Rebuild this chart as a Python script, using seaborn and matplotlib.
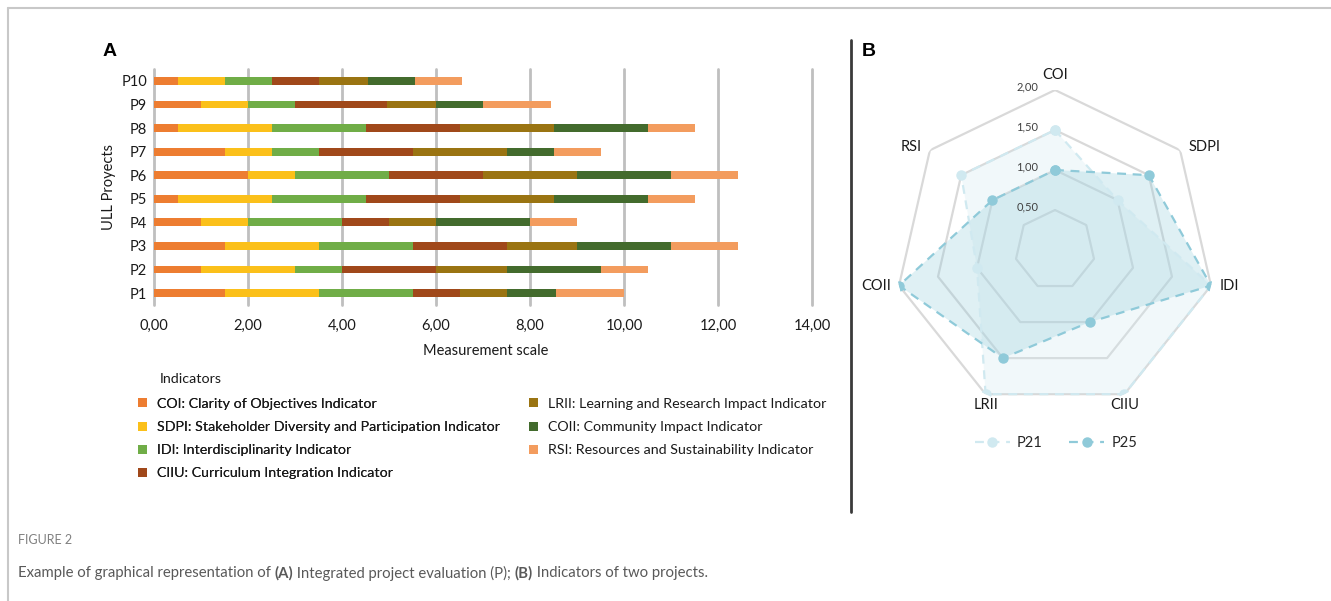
import numpy as np
import pandas as pd
import matplotlib
matplotlib.use("Agg")
import matplotlib.pyplot as plt
import seaborn as sns
from matplotlib.patches import Patch
from matplotlib.lines import Line2D

# ---------------- data ----------------
projects = ["P1", "P2", "P3", "P4", "P5", "P6", "P7", "P8", "P9", "P10"]
indicators = ["COI", "SDPI", "IDI", "CIIU", "LRII", "COII", "RSI"]
indicator_labels = [
    "COI: Clarity of Objectives Indicator",
    "SDPI: Stakeholder Diversity and Participation Indicator",
    "IDI: Interdisciplinarity Indicator",
    "CIIU: Curriculum Integration Indicator",
    "LRII: Learning and Research Impact Indicator",
    "COII: Community Impact Indicator",
    "RSI: Resources and Sustainability Indicator",
]
coi = [1.5, 1.0, 1.5, 1.0, 0.5, 2.0, 1.5, 0.5, 1.0, 0.5]
sdpi = [2.0, 2.0, 2.0, 1.0, 2.0, 1.0, 1.0, 2.0, 1.0, 1.0]
idi = [2.0, 1.0, 2.0, 2.0, 2.0, 2.0, 1.0, 2.0, 1.0, 1.0]
ciiu = [1.0, 2.0, 2.0, 1.0, 2.0, 2.0, 2.0, 2.0, 1.95, 1.0]
lrii = [1.0, 1.5, 1.5, 1.0, 2.0, 2.0, 2.0, 2.0, 1.05, 1.05]
coii = [1.05, 2.0, 2.0, 2.0, 2.0, 2.0, 1.0, 2.0, 1.0, 1.0]
rsi = [1.45, 1.0, 1.43, 1.0, 1.0, 1.43, 1.0, 1.0, 1.45, 1.0]
x_ticks = [0, 2, 4, 6, 8, 10, 12, 14]

radar_axes = ["COI", "SDPI", "IDI", "CIIU", "LRII", "COII", "RSI"]
p21 = [1.5, 1.0, 2.0, 2.0, 2.0, 1.0, 1.5]
p25 = [1.0, 1.5, 2.0, 1.0, 1.5, 2.0, 1.0]
radar_rings = [0.5, 1.0, 1.5, 2.0]

bar_colors = ["#ED7D31", "#FBC01A", "#70AD47", "#A0481A", "#9A7412", "#436B2D", "#F39C5E"]

W, H = 1331, 601
FONT = "Lato"
sns.set_theme(style="white")
plt.rcParams["font.family"] = [FONT, "DejaVu Sans"]

fig = plt.figure(figsize=(W / 100, H / 100), dpi=100)

def fx(px):
    return px / W

def fy(py):
    return 1 - py / H

TXT = "#1a1a1a"

# ---------------- panel A : stacked bars ----------------
df = pd.DataFrame({"project": projects, "COI": coi, "SDPI": sdpi, "IDI": idi,
                   "CIIU": ciiu, "LRII": lrii, "COII": coii, "RSI": rsi})
cum = df[indicators].cumsum(axis=1)
cum["project"] = df["project"]

row_top, row_bot = 81, 293
step = (row_bot - row_top) / 9
axA = fig.add_axes([fx(154), fy(row_bot + step / 2), fx(812) - fx(154), (row_bot - row_top + step) / H])
order = projects[::-1]
for k in reversed(range(len(indicators))):
    sns.barplot(data=cum, x=indicators[k], y="project", order=order, orient="h",
                color=bar_colors[k], saturation=1, width=0.33, errorbar=None,
                linewidth=0, ax=axA, zorder=3)
axA.set_xlim(0, 14)
axA.set_ylim(9.5, -0.5)
axA.set_xticks(x_ticks)
axA.set_xticklabels([f"{v:.2f}".replace(".", ",") for v in x_ticks])
axA.xaxis.grid(True, color="#BFBFBF", lw=2)
axA.yaxis.grid(False)
axA.set_axisbelow(True)
for gl in axA.get_xgridlines():
    gl.set_clip_on(False)
for s in axA.spines.values():
    s.set_visible(False)
axA.tick_params(axis="x", length=0, pad=10, labelsize=10.5, labelcolor=TXT)
axA.tick_params(axis="y", length=0, pad=5, labelsize=10.5, labelcolor=TXT)
axA.set_xlabel("Measurement scale", fontsize=10.5, color=TXT)
axA.set_ylabel("ULL Proyects", fontsize=10.5, color=TXT, labelpad=4)
axA.xaxis.set_label_coords((486 - 154) / (812 - 154), -0.165)

fig.text(fx(110), fy(52), "A", fontsize=14, fontweight="bold", family="Liberation Sans",
         ha="center", va="center", color="black")

# legend
fig.text(fx(160), fy(379), "Indicators", fontsize=10.3, ha="left", va="center", color=TXT)
handles = [Patch(facecolor=c, edgecolor="none") for c in bar_colors]
leg_kw = dict(loc="upper left", frameon=False, fontsize=10.3, handlelength=0.6,
              handleheight=0.6, handletextpad=0.75, labelspacing=0.78,
              borderpad=0, borderaxespad=0)
leg1 = fig.legend(handles[:4], indicator_labels[:4], bbox_to_anchor=(fx(138), fy(398)), **leg_kw)
leg2 = fig.legend(handles[4:], indicator_labels[4:], bbox_to_anchor=(fx(529), fy(398)), **leg_kw)
fig.add_artist(leg1)
for lg in (leg1, leg2):
    for t in lg.get_texts():
        t.set_color(TXT)

# ---------------- panel B : radar ----------------
cx, cy, R = 1055, 250, 160
axB = fig.add_axes([fx(cx - R), fy(cy + R), 2 * R / W, 2 * R / H], projection="polar")
axB.set_theta_offset(np.pi / 2)
axB.set_theta_direction(-1)
axB.grid(False)
axB.spines["polar"].set_visible(False)
axB.set_xticks([])
axB.set_yticks([])
axB.patch.set_alpha(0)

n = len(radar_axes)
ang = np.linspace(0, 2 * np.pi, n, endpoint=False)
angc = np.concatenate([ang, ang[:1]])
for r in radar_rings:
    axB.plot(angc, [r] * (n + 1), color="#D9D9D9", lw=1.6, zorder=1)

c21, c25 = "#D0E9F0", "#8FCAD9"
v21 = np.array(p21 + p21[:1])
v25 = np.array(p25 + p25[:1])
axB.fill(angc, v21, color=c21, alpha=0.28, zorder=2, lw=0)
axB.fill(angc, v25, color=c25, alpha=0.28, zorder=2, lw=0)
l21, = axB.plot(angc, v21, color=c21, lw=1.6, ls=(0, (4, 3)), marker="o", ms=6.5,
                zorder=3, label="P21")
l25, = axB.plot(angc, v25, color=c25, lw=1.6, ls=(0, (4, 3)), marker="o", ms=6.5,
                zorder=4, label="P25")
axB.set_ylim(0, 2)

for a, name in zip(ang, radar_axes):
    s, c = np.sin(a), np.cos(a)
    if c < -0.5:
        ha, va, dx, dy = "center", "top", 0, -3
    elif c > 0.9:
        ha, va, dx, dy = "center", "bottom", 0, 6
    else:
        ha = "left" if s > 0 else "right"
        va = "center"
        dx = 6 * np.sign(s)
        dy = 2 if c > 0 else 0
    axB.annotate(name, xy=(a, 2.0), xytext=(dx, dy), textcoords="offset points",
                 ha=ha, va=va, fontsize=10.5, color=TXT, annotation_clip=False)
for r in radar_rings:
    axB.annotate(f"{r:.2f}".replace(".", ","), xy=(0, r), xytext=(-12, 2),
                 textcoords="offset points", ha="right", va="center",
                 fontsize=8, color="#404040", annotation_clip=False)

fig.text(fx(862), fy(52), "B", fontsize=14, fontweight="bold", family="Liberation Sans",
         ha="left", va="center", color="black")
fig.legend([l21, l25], ["P21", "P25"], loc="center", bbox_to_anchor=(fx(1056), fy(443)),
           ncol=2, frameon=False, fontsize=10.5, handlelength=2.4, handletextpad=0.5,
           columnspacing=1.8, borderpad=0)

# ---------------- frame, separator, caption ----------------
fig.add_artist(Line2D([fx(8), fx(8)], [0, fy(8)], color="#C8C8C8", lw=1.5, transform=fig.transFigure))
fig.add_artist(Line2D([fx(8), 1], [fy(8), fy(8)], color="#C8C8C8", lw=1.5, transform=fig.transFigure))
fig.add_artist(Line2D([fx(851), fx(851)], [fy(40), fy(512)], color="#3a3a3a", lw=2,
                      transform=fig.transFigure))

fig.text(fx(18), fy(540), "FIGURE 2", fontsize=9, color="#808080", ha="left", va="center")
pieces = [("Example of graphical representation of ", "normal"), ("(A)", "bold"),
          (" Integrated project evaluation (P); ", "normal"), ("(B)", "bold"),
          (" Indicators of two projects.", "normal")]
renderer = fig.canvas.get_renderer()
xpos = fx(18)
for txt, wt in pieces:
    t = fig.text(xpos, fy(573), txt, fontsize=10.7, fontweight=wt, color="#595959",
                 ha="left", va="center")
    bb = t.get_window_extent(renderer=renderer)
    xpos = bb.x1 / W

fig.savefig("out.png", dpi=100)
